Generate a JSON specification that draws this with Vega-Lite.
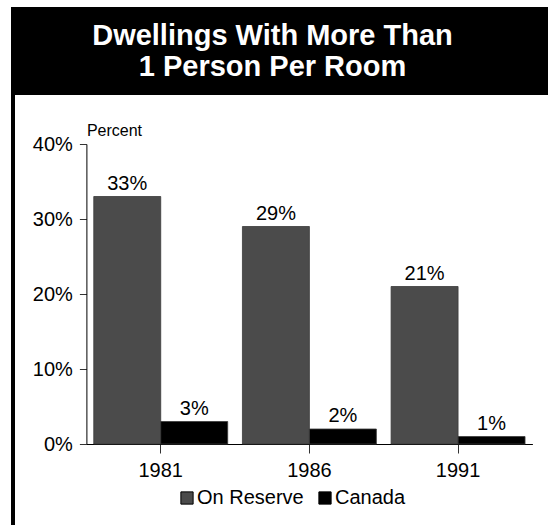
{
  "$schema": "https://vega.github.io/schema/vega-lite/v6.json",
  "background": "white",
  "padding": {"left": 11, "top": 7, "right": 0, "bottom": 0},
  "config": {
    "font": "Liberation Sans",
    "view": {"stroke": null},
    "concat": {"spacing": 0}
  },
  "datasets": {
    "bars": [
      {"year": "1981", "group": "On Reserve", "share": 0.33},
      {"year": "1981", "group": "Canada", "share": 0.03},
      {"year": "1986", "group": "On Reserve", "share": 0.29},
      {"year": "1986", "group": "Canada", "share": 0.02},
      {"year": "1991", "group": "On Reserve", "share": 0.21},
      {"year": "1991", "group": "Canada", "share": 0.01}
    ],
    "heading": [
      {"text": "Dwellings With More Than\n1 Person Per Room"}
    ],
    "none": []
  },
  "hconcat": [
    {
      "width": 4,
      "height": 518,
      "view": {"fill": "black", "stroke": null},
      "data": {"name": "none"},
      "mark": "point",
      "encoding": {}
    },
    {
      "spacing": 27,
      "vconcat": [
        {
          "width": 533,
          "height": 88,
          "view": {"fill": "black", "stroke": null},
          "data": {"name": "heading"},
          "mark": {
            "type": "text",
            "color": "white",
            "fontSize": 29,
            "fontWeight": "bold",
            "lineBreak": "\n",
            "lineHeight": 31,
            "align": "center",
            "baseline": "middle",
            "dx": -9,
            "dy": -15
          },
          "encoding": {
            "text": {"field": "text", "type": "nominal"}
          }
        },
        {
          "width": 517.4,
          "height": 300,
          "data": {"name": "bars"},
          "encoding": {
            "x": {
              "field": "year",
              "type": "nominal",
              "scale": {"paddingInner": 0, "paddingOuter": 0, "range": [71.4, 517.4]},
              "axis": {
                "title": null,
                "labelAngle": 0,
                "labelFontSize": 20,
                "labelColor": "black",
                "tickSize": 9,
                "tickColor": "#333",
                "labelPadding": 7,
                "domainColor": "black"
              }
            },
            "xOffset": {
              "field": "group",
              "type": "nominal",
              "scale": {"domain": ["On Reserve", "Canada"], "paddingOuter": 0.11, "paddingInner": 0}
            },
            "y": {
              "field": "share",
              "type": "quantitative",
              "scale": {"domain": [0, 0.4], "nice": false},
              "axis": {
                "offset": -71.4,
                "format": ".0%",
                "values": [0, 0.1, 0.2, 0.3, 0.4],
                "grid": false,
                "labelFontSize": 20,
                "labelColor": "black",
                "tickSize": 7,
                "tickColor": "#333",
                "labelPadding": 7,
                "domainColor": "black",
                "title": "Percent",
                "titleFontSize": 16,
                "titleFontWeight": "normal",
                "titleColor": "black",
                "titleAngle": 0,
                "titleAlign": "left",
                "titleBaseline": "alphabetic",
                "titleX": 0,
                "titleY": -9
              }
            }
          },
          "layer": [
            {
              "mark": {"type": "bar", "stroke": "#3a3a3a", "strokeWidth": 0.8},
              "encoding": {
                "color": {
                  "field": "group",
                  "type": "nominal",
                  "scale": {"domain": ["On Reserve", "Canada"], "range": ["#4b4b4b", "#000000"]},
                  "legend": {
                    "title": null,
                    "orient": "none",
                    "direction": "horizontal",
                    "legendX": 166,
                    "legendY": 481,
                    "padding": 0,
                    "symbolType": "square",
                    "symbolSize": 150,
                    "symbolStrokeColor": "black",
                    "symbolStrokeWidth": 1,
                    "symbolOpacity": 1,
                    "labelFontSize": 20,
                    "labelColor": "black",
                    "labelOffset": 0,
                    "columnPadding": 11
                  }
                }
              }
            },
            {
              "mark": {"type": "text", "fontSize": 20, "baseline": "alphabetic", "dy": -7, "color": "black"},
              "encoding": {
                "text": {"field": "share", "type": "quantitative", "format": ".0%"}
              }
            }
          ]
        }
      ]
    }
  ]
}
